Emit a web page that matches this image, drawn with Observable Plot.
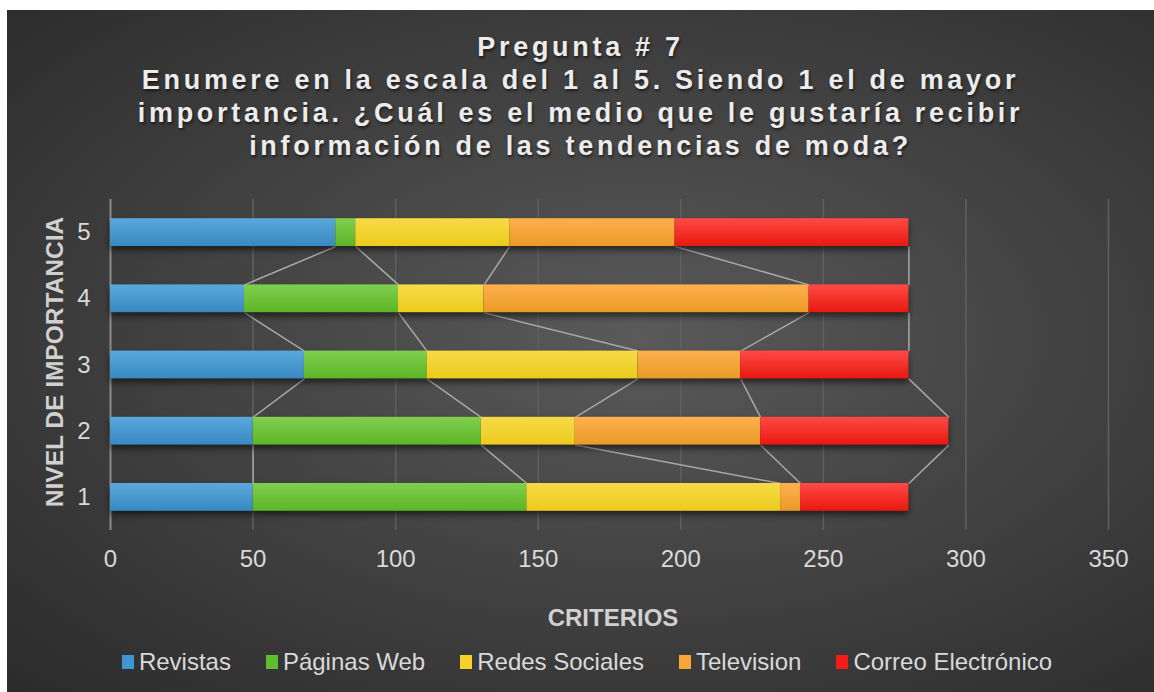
<!DOCTYPE html>
<html>
<head>
<meta charset="utf-8">
<script src="https://cdn.jsdelivr.net/npm/d3@7"></script>
<script src="https://cdn.jsdelivr.net/npm/@observablehq/plot@0.6"></script>
<style>
  html, body { margin: 0; padding: 0; background: #ffffff; }
  body { width: 1154px; height: 692px; position: relative; overflow: hidden; font-family: "Liberation Sans", Arial, sans-serif; }
  #chart {
    position: absolute; left: 7px; top: 10px; width: 1147px; height: 682px;
    background: radial-gradient(ellipse farthest-corner at 55% 48%, #5a5a5a 0%, #444444 45%, #2b2b2b 100%);
    overflow: hidden;
  }
  #title {
    position: absolute; left: 0; top: 21px; width: 100%; text-align: center;
    color: #ececec; font-weight: bold; font-size: 27px; line-height: 33px; letter-spacing: 3.7px;
    text-shadow: 1px 2px 3px rgba(0,0,0,0.6);
  }
  #plot { position: absolute; left: 0; top: 180px; }
  #ytitle {
    position: absolute; left: 48px; top: 352px; transform: translate(-50%, -50%) rotate(-90deg);
    white-space: nowrap; color: #d0d0d0; font-weight: bold; font-size: 24.5px;
  }
  #xtitle {
    position: absolute; left: 606px; top: 596px; transform: translateX(-50%); white-space: nowrap;
    color: #d0d0d0; font-weight: bold; font-size: 24px; line-height: 24px;
  }
  #legend {
    position: absolute; left: 0; width: 1160px; top: 640px; display: flex; justify-content: center; gap: 35px;
    color: #d9d9d9; font-size: 24px; line-height: 24px;
  }
  .item { display: flex; align-items: center; gap: 5px; }
  .sw { width: 12px; height: 14px; display: inline-block; }
</style>
</head>
<body>
<div id="chart">
  <div id="title">Pregunta # 7<br>Enumere en la escala del 1 al 5. Siendo 1 el de mayor<br>importancia. ¿Cuál es el medio que le gustaría recibir<br>información de las tendencias de moda?</div>
  <div id="plot"></div>
  <div id="ytitle">NIVEL DE IMPORTANCIA</div>
  <div id="xtitle">CRITERIOS</div>
  <div id="legend"></div>
</div>
<script>
// ---- data ----
const levels = [1, 2, 3, 4, 5];
const series = ["Revistas", "Páginas Web", "Redes Sociales", "Television", "Correo Electrónico"];
const revistas = [50, 50, 68, 47, 79];
const paginasWeb = [96, 80, 43, 54, 7];
const redesSociales = [89, 33, 74, 30, 54];
const television = [7, 65, 36, 114, 58];
const correo = [38, 66, 59, 35, 82];
const xTicks = [0, 50, 100, 150, 200, 250, 300, 350];

// ---- styles ----
const topColors = ["#5aa8dc", "#80cf4e", "#f6da48", "#ffb04e", "#ff4a45"];
const botColors = ["#3889c2", "#5cb526", "#eccb1c", "#ea9a26", "#e81810"];
const swatch = ["#3e95cf", "#5ebd30", "#f4d22a", "#f9a53a", "#f21e15"];
const half = 0.21;

const valuesBySeries = [revistas, paginasWeb, redesSociales, television, correo];
const rects = [];
const ends = {};
levels.forEach((lv, i) => {
  let cum = 0;
  ends[lv] = [];
  series.forEach((s, k) => {
    const v = valuesBySeries[k][i];
    rects.push({level: lv, series: s, x1: cum, x2: cum + v, yb: lv - half, yt: lv + half});
    cum += v;
    ends[lv].push(cum);
  });
});
const links = [];
for (let i = 0; i < levels.length - 1; i++) {
  const lo = levels[i], hi = levels[i + 1];
  series.forEach((s, k) => {
    links.push({x1: ends[lo][k], y1: lo + half, x2: ends[hi][k], y2: hi - half});
  });
}

const svg = Plot.plot({
  width: 1147,
  height: 390,
  marginLeft: 103,
  marginRight: 46,
  marginTop: 9,
  marginBottom: 50,
  style: {background: "transparent", color: "#d9d9d9", fontFamily: "'Liberation Sans', Arial, sans-serif", overflow: "visible"},
  x: {domain: [0, 350]},
  y: {domain: [0.5, 5.5]},
  color: {type: "ordinal", domain: series, range: series.map((_, i) => `url(#grad${i})`)},
  marks: [
    Plot.gridX(xTicks.filter(t => t > 0), {stroke: "#606060", strokeOpacity: 1, strokeWidth: 1.5}),
    Plot.ruleX([0], {stroke: "#8c8c8c", strokeWidth: 2}),
    Plot.link(links, {x1: "x1", y1: "y1", x2: "x2", y2: "y2", stroke: "#a8a8a8", strokeWidth: 1.5}),
    Plot.rect(rects, {x1: "x1", x2: "x2", y1: "yb", y2: "yt", fill: "series"}),
    Plot.axisX({ticks: xTicks, tickSize: 0, tickPadding: 19, fontSize: 24, label: null, fill: "#d9d9d9"}),
    Plot.axisY({ticks: levels, tickSize: 0, tickPadding: 20, fontSize: 24, label: null, fill: "#d9d9d9", tickFormat: d => String(d)})
  ]
});

const defs = d3.select(svg).insert("defs", ":first-child");
series.forEach((s, i) => {
  const g = defs.append("linearGradient").attr("id", `grad${i}`).attr("x1", 0).attr("y1", 0).attr("x2", 0).attr("y2", 1);
  g.append("stop").attr("offset", "0%").attr("stop-color", topColors[i]);
  g.append("stop").attr("offset", "100%").attr("stop-color", botColors[i]);
});
d3.select(svg).selectAll("g[aria-label='rect']").style("filter", "drop-shadow(0px 4px 3px rgba(0,0,0,0.55))");

document.getElementById("plot").appendChild(svg);

const legend = document.getElementById("legend");
series.forEach((s, i) => {
  const it = document.createElement("div");
  it.className = "item";
  const sw = document.createElement("span");
  sw.className = "sw";
  sw.style.background = swatch[i];
  const tx = document.createElement("span");
  tx.textContent = s;
  it.appendChild(sw);
  it.appendChild(tx);
  legend.appendChild(it);
});
</script>
</body>
</html>
